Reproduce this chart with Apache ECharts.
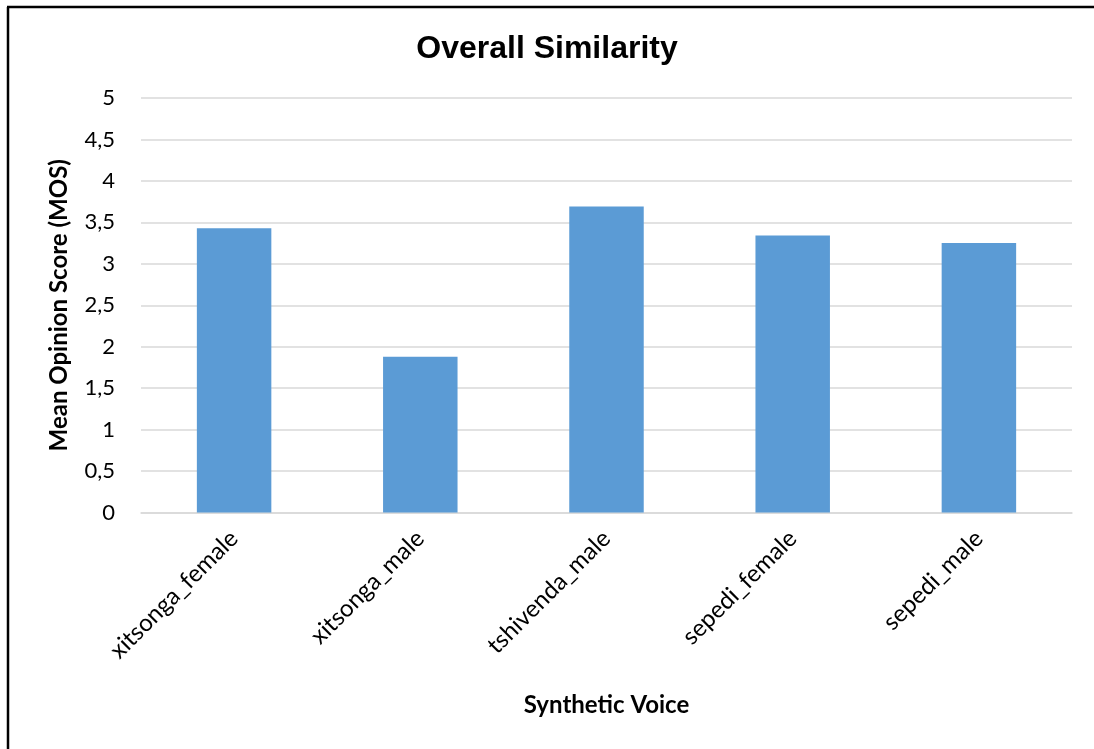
<!DOCTYPE html>
<html>
<head>
<meta charset="utf-8">
<script src="https://cdn.jsdelivr.net/npm/echarts@6/dist/echarts.min.js"></script>
<style>
  html, body { margin: 0; padding: 0; background: #fff; }
  #chart { width: 1094px; height: 749px; }
</style>
</head>
<body>
<div id="chart"></div>
<script>
// Voices tested and their mean opinion scores
const voices = ['xitsonga_female', 'xitsonga_male', 'tshivenda_male', 'sepedi_female', 'sepedi_male'];
const mosScores = [3.43, 1.88, 3.69, 3.34, 3.25];
const yTicks = ['0', '0,5', '1', '1,5', '2', '2,5', '3', '3,5', '4', '4,5', '5'];

const chart = echarts.init(document.getElementById('chart'));
const uiFont = 'Lato';

chart.setOption({
  backgroundColor: '#ffffff',
  animation: false,
  title: {
    text: 'Overall Similarity',
    left: 'center',
    top: 28,
    textStyle: {
      fontFamily: 'Liberation Sans',
      fontWeight: 'bold',
      fontSize: 32,
      color: '#000'
    }
  },
  graphic: [
    { type: 'line', shape: { x1: 8, y1: 7, x2: 8, y2: 749 }, style: { stroke: '#000', lineWidth: 2.5 } },
    { type: 'line', shape: { x1: 7, y1: 7, x2: 1094, y2: 7 }, style: { stroke: '#000', lineWidth: 2.5 } }
  ],
  grid: { left: 141, right: 22, top: 98, bottom: 236.5 },
  xAxis: {
    type: 'category',
    data: voices,
    name: 'Synthetic Voice',
    nameLocation: 'middle',
    nameGap: 181,
    nameTextStyle: { fontFamily: uiFont, fontWeight: 'bold', fontSize: 24, color: '#000' },
    axisLine: { show: true, lineStyle: { color: '#d9d9d9', width: 1.5 } },
    axisTick: { show: false },
    axisLabel: {
      rotate: 45,
      margin: 22,
      fontFamily: uiFont,
      fontSize: 24,
      color: '#000'
    }
  },
  yAxis: {
    type: 'value',
    min: 0,
    max: 5,
    interval: 0.5,
    name: 'Mean Opinion Score (MOS)',
    nameLocation: 'middle',
    nameGap: 70,
    nameTextStyle: { fontFamily: uiFont, fontWeight: 'bold', fontSize: 24, color: '#000' },
    axisLine: { show: false },
    axisTick: { show: false },
    splitLine: { lineStyle: { color: '#d9d9d9', width: 1.5 } },
    axisLabel: {
      margin: 26,
      fontFamily: uiFont,
      fontSize: 22,
      color: '#000',
      formatter: function (v) { return yTicks[Math.round(v * 2)]; }
    }
  },
  series: [{
    type: 'bar',
    data: mosScores,
    barWidth: '40%',
    itemStyle: { color: '#5b9bd5' }
  }]
});
</script>
</body>
</html>
